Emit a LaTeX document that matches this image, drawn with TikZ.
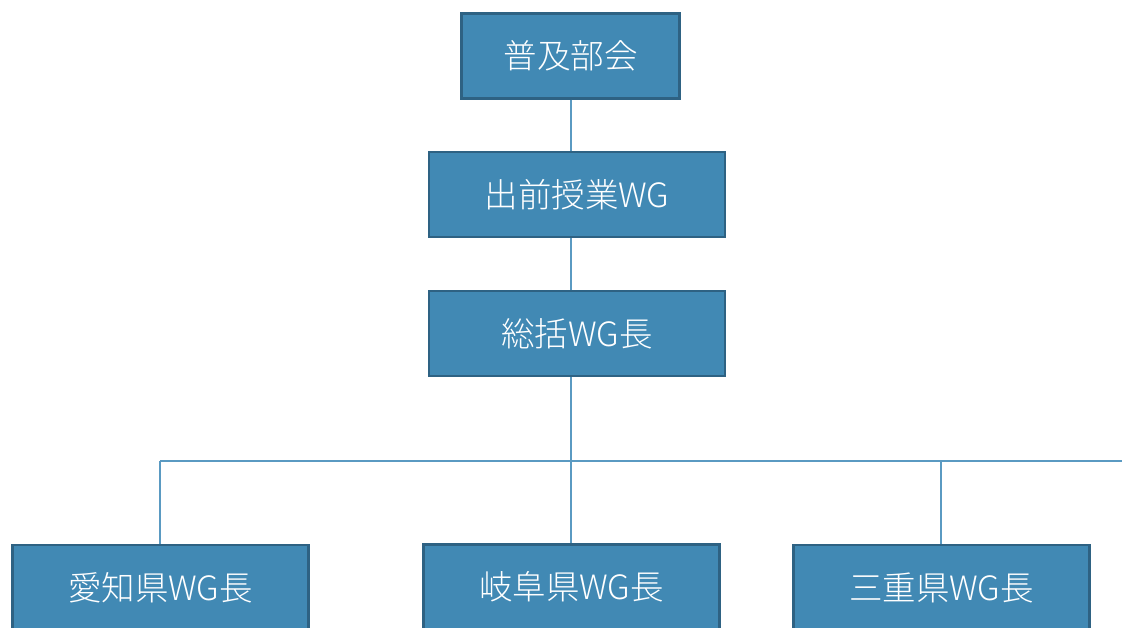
\documentclass[tikz,border=0pt]{standalone}
\usepackage{fontspec}
\setmainfont{Noto Sans CJK JP}[UprightFont = * Light]
\definecolor{boxfill}{HTML}{4189B4}
\definecolor{boxedge}{HTML}{2E6283}
\definecolor{linkc}{HTML}{5A9AC2}
\begin{document}
\begin{tikzpicture}[x=1pt,y=-1pt,
  orgbox/.style={draw=boxedge,fill=boxfill,line width=2.5pt,text=white,
    minimum width=#1,minimum height=85pt,inner sep=0pt,font=\fontsize{33.5}{36}\selectfont},
  orgbox/.default=296pt,
  link/.style={draw=linkc,line width=1.3pt}]
\useasboundingbox (0,0) rectangle (1122,628);
\begin{scope}
\clip (0,0) rectangle (1122,628);
\node[orgbox=218pt] (a) at (570.5,56) {普及部会};
\node[orgbox] (b) at (577,194.5) {出前授業WG};
\node[orgbox] (c) at (577,333.5) {総括WG長};
\node[orgbox] (d1) at (160.5,587.5) {愛知県WG長};
\node[orgbox] (d2) at (571.5,587) {岐阜県WG長};
\node[orgbox] (d3) at (941.5,587.5) {三重県WG長};
\coordinate (j) at (571,461);
\coordinate (jl) at (160,461);
\coordinate (jr) at (941,461);
\coordinate (je) at (1122,461);
\draw[link] (a.south -| j) -- (b.north -| j);
\draw[link] (b.south -| j) -- (c.north -| j);
\draw[link] (c.south -| j) -- (j);
\draw[link] (jl) -- (je);
\draw[link] (jl) -- (d1.north -| jl);
\draw[link] (j) -- (d2.north -| j);
\draw[link] (jr) -- (d3.north -| jr);
\end{scope}
\end{tikzpicture}
\end{document}
